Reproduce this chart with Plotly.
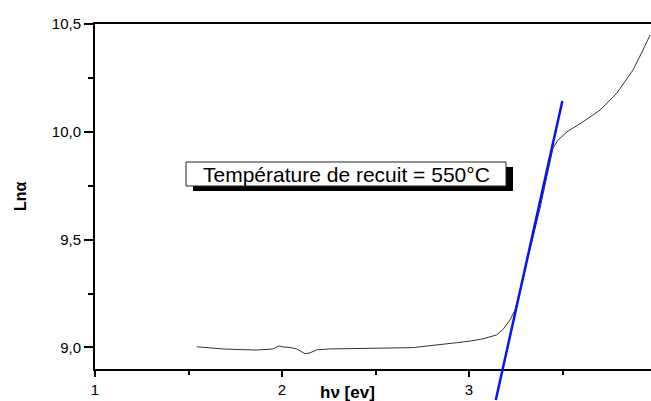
import plotly.graph_objects as go

# Absorption edge: Ln(alpha) against photon energy, film annealed at 550 °C
hv = [1.544, 1.600, 1.684, 1.780, 1.864, 1.952, 1.984, 2.005, 2.043, 2.079,
      2.123, 2.150, 2.186, 2.257, 2.346, 2.420, 2.487, 2.600, 2.701, 2.738,
      2.850, 2.934, 3.010, 3.075, 3.148, 3.182, 3.219, 3.246, 3.273, 3.326,
      3.380, 3.412, 3.433, 3.449, 3.476, 3.524, 3.610, 3.701, 3.790, 3.877,
      3.930, 3.968]
ln_alpha = [9.003, 8.998, 8.993, 8.990, 8.988, 8.993, 9.007, 9.002, 9.000, 8.993,
            8.971, 8.975, 8.989, 8.993, 8.994, 8.995, 8.996, 8.998, 8.999, 9.003,
            9.012, 9.022, 9.030, 9.040, 9.058, 9.084, 9.127, 9.173, 9.266, 9.452,
            9.647, 9.776, 9.855, 9.925, 9.962, 10.000, 10.047, 10.101, 10.179, 10.287,
            10.379, 10.449]

# Linear fit of the absorption edge
fit_hv = [3.143, 3.499]
fit_ln = [8.756, 10.143]

x_range = [1, 3.973]
y_range = [8.9, 10.5]
y_ticks = [9.0, 9.5, 10.0, 10.5]
x_ticks = [1, 2, 3]

label_text = "Température de recuit = 550°C"
x_title = "hν [ev]"
y_title = "Lnα"

W, H = 651, 401
ML, MT = 95, 24
plot_w = W - ML
plot_h = H - MT
x_gap = 32  # pixels between the x axis and the bottom edge
main_bottom = x_gap / plot_h
# the fit line is allowed to run below the x axis, so it lives on a
# second, taller pair of axes that share the same data scale
y2_lo = y_range[0] - (y_range[1] - y_range[0]) * x_gap / (plot_h - x_gap)


def px(xp):
    return (xp - ML) / plot_w


def py(yp):
    return (H - yp) / plot_h


FONT = "Liberation Sans, Arial, sans-serif"

fig = go.Figure()
fig.add_trace(go.Scatter(
    x=hv, y=ln_alpha, mode="lines",
    line=dict(color="#333333", width=1),
    xaxis="x", yaxis="y", showlegend=False, hoverinfo="skip",
))
fig.add_trace(go.Scatter(
    x=fit_hv, y=fit_ln, mode="lines",
    line=dict(color="#0a14f0", width=2.5),
    xaxis="x2", yaxis="y2", showlegend=False, hoverinfo="skip",
))

axis_common = dict(showgrid=False, zeroline=False, linecolor="black",
                   tickcolor="black", tickfont=dict(family=FONT, size=15, color="black"))

fig.update_layout(
    width=W, height=H,
    margin=dict(l=ML, r=0, t=MT, b=0, autoexpand=False),
    paper_bgcolor="white", plot_bgcolor="rgba(0,0,0,0)",
    separators=",.",
    font=dict(family=FONT, color="black"),
    xaxis=dict(domain=[0, 1], range=x_range, anchor="y",
               showline=True, linewidth=2, mirror=True,
               tickmode="array", tickvals=x_ticks, ticktext=[str(t) for t in x_ticks],
               ticks="outside", ticklen=6, tickwidth=1.5,
               minor=dict(dtick=0.5, tick0=1, ticks="outside", ticklen=4,
                          tickwidth=1.5, tickcolor="black"),
               **axis_common),
    yaxis=dict(domain=[main_bottom, 1], range=y_range, anchor="x",
               showline=True, linewidth=2,
               tickmode="array", tickvals=y_ticks, tickformat=".1f",
               ticks="outside", ticklen=9, tickwidth=1.5,
               minor=dict(dtick=0.25, tick0=9, ticks="outside", ticklen=5,
                          tickwidth=1.5, tickcolor="black"),
               **axis_common),
    xaxis2=dict(domain=[0, 1], range=x_range, anchor="y2", visible=False),
    yaxis2=dict(domain=[0, 1], range=[y2_lo, y_range[1]], anchor="x2", visible=False),
)

# boxed label with a drop shadow
fig.add_shape(type="rect", xref="paper", yref="paper",
              x0=px(193), x1=px(513), y0=py(191), y1=py(167),
              fillcolor="black", line=dict(width=0), layer="above")
fig.add_shape(type="rect", xref="paper", yref="paper",
              x0=px(186), x1=px(506), y0=py(186), y1=py(162),
              fillcolor="white", line=dict(color="#222222", width=1), layer="above")
fig.add_annotation(xref="paper", yref="paper", x=px(346), y=py(174),
                   xanchor="center", yanchor="middle",
                   text=label_text, showarrow=False,
                   font=dict(family=FONT, size=21, color="black"))

# axis titles
fig.add_annotation(xref="paper", yref="paper", x=px(20), y=py(196),
                   xanchor="center", yanchor="middle",
                   text="<b>" + y_title + "</b>", textangle=-90, showarrow=False,
                   font=dict(family=FONT, size=16, color="black"))
fig.add_annotation(xref="paper", yref="paper", x=px(347), y=py(392),
                   xanchor="center", yanchor="middle",
                   text="<b>" + x_title + "</b>", showarrow=False,
                   font=dict(family=FONT, size=17, color="black"))

fig.write_html("out.html")
